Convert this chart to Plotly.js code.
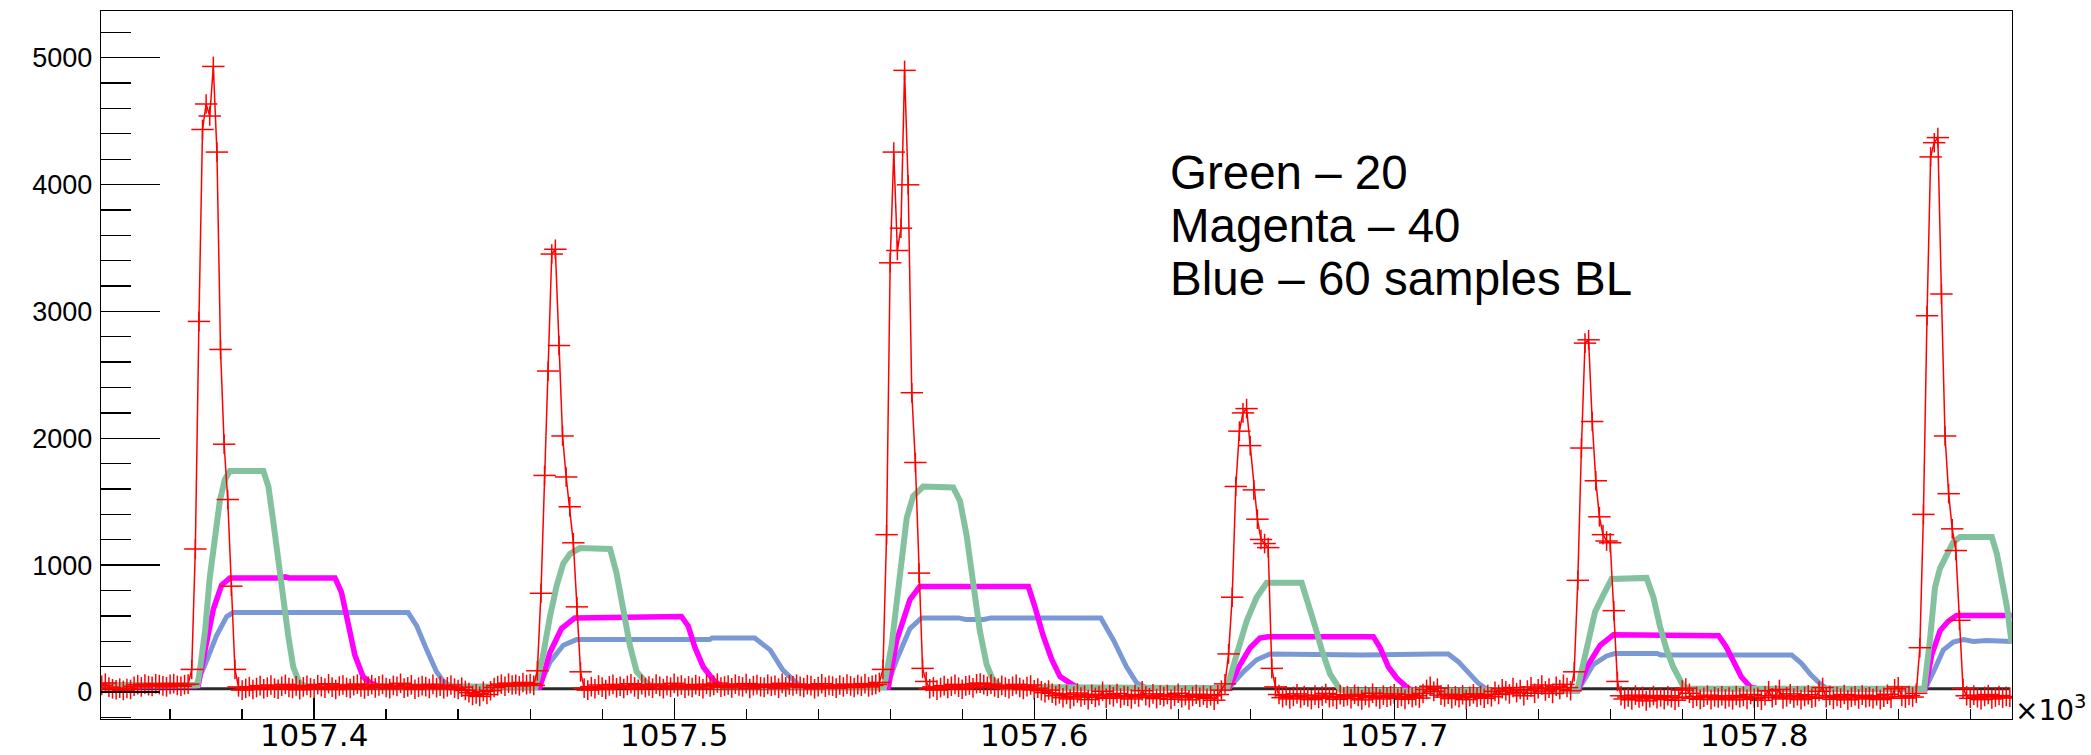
<!DOCTYPE html>
<html>
<head>
<meta charset="utf-8">
<script src="https://cdn.plot.ly/plotly-3.0.1.min.js"></script>
<style>
  html, body { margin: 0; padding: 0; background: #ffffff; }
  #chart { width: 2091px; height: 755px; }
</style>
</head>
<body>
<div id="chart"></div>
<script>
// ---- sampling grid (x axis shown in units of 10^3) ----
const SAMPLE0 = 1057.341;   // x of sample 0 (x10^3)
const SAMPLE_STEP = 0.001;  // one sample (x10^3)

// ---- raw waveform (red), one value per sample ----
const redCounts = [
  // baseline before pulse 1 (samples 0-24)
  52, 70, 38, 25, 18, 30, 12, 28, 20, 45, 58, 40, 62, 50, 44, 65, 58, 48, 40, 60, 66, 52, 45, 58, 62,
  // pulse 1 (25-38)
  178, 1127, 2921, 4434, 4635, 4540, 4931, 4256, 2700, 1953, 1517, 834, 178, 40,
  // baseline (39-120)
  15, 28, 42, 20, 35, 50, 25, 38, 55, 30,
  22, 45, 60, 35, 28, 48, 18, 40, 52, 33,
  25, 58, 42, 30, 65, 38, 20, 47, 55, 36,
  28, 50, 62, 40, 24, 45, 58, 32, 48, 60,
  35, 26, 52, 44, 68, 30, 40, 56, 22, 38,
  50, 42, 28, 60, 34, 46, 25, 40, 55, 30,
  20, 38, 12, -5, -28, -15, -35, 5, -20, 10,
  35, 50, 62, 45, 70, 55, 60, 48, 75, 58, 66, 52,
  // pulse 2 (121-133)
  167, 778, 1707, 2530, 3452, 3490, 2731, 2018, 1695, 1460, 1176, 671, 159,
  // baseline (134-216)
  30, 15, 42, 25, 55, 38, 20, 48, 60, 33,
  45, 28, 52, 65, 40, 22, 58, 35, 47, 30,
  62, 44, 26, 50, 38, 68, 42, 55, 30, 48,
  35, 58, 45, 25, 60, 40, 52, 70, 38, 46,
  55, 32, 62, 48, 40, 66, 28, 50, 58, 42,
  36, 60, 45, 52, 30, 68, 40, 55, 48, 62,
  44, 35, 58, 50, 25, 42, 65, 38, 52, 46,
  30, 55, 40, 62, 48, 35, 58, 45, 66, 40,
  52, 60, 75,
  // pulse 3 (217-229)
  178, 1240, 3383, 4256, 3480, 3656, 4900, 3998, 2359, 1809, 937, 186, 83,
  // baseline (230-311)
  25, 40, 15, 35, 50, 28, 45, 60, 38, 22,
  48, 55, 32, 65, 70, 58, 45, 62, 40, 30,
  52, 38, 25, 45, 60, 35, 20, 42, 55, 18,
  30, 10, -5, 15, -10,
  -30, -15, -45, -20, -55, -35, -8, -40, -25, -60,
  -18, -42, -30, 5, -50, -22, -38, -12, -48, -28,
  -35, -55, -20, -40, 10, -30, -45, -15, -52, -25,
  -38, -20, -58, -32, -10, -45, -28, -62, -35, -18,
  -42, -25, -50, -30, -65, -20, 15,
  // pulse 4 (312-326)
  64, 300, 747, 1620, 2056, 2200, 2234, 1942, 1593, 1362, 1202, 1170, 1138, 186, 40,
  // baseline (327-408)
  -20, -45, -30, -55, -35, -15, -48, -28, -40, -60,
  -25, -50, -32, -12, -45, -38, -58, -22, -40, -30,
  -52, -18, -35, -62, -28, -45, -10, -38, -55, -25,
  -42, -30, -15, -50, -35, -58, -20, -44, -30, -48,
  -12, 20, 45, 5, 30, -25, -40, -18, -52, -30,
  -45, -22, -60, -35, -15, -42, -28, -50, -20, -38,
  5, -20, 25, 10, -15, 35, -5, 20, -30, 15,
  40, -10, 25, 55, 8, 30, -12, 45, 20, 60,
  35, 10,
  // pulse 5 (409-421)
  159, 880, 1923, 2750, 2776, 2132, 1665, 1381, 1240, 1190, 1176, 641, 83,
  // baseline (422-504)
  -30, -55, -40, -62, -25, -48, -35, -70, -45, -28,
  -52, -38, -60, -30, -45, -65, -40, 15, 30, -10,
  -50, -35, -58, -42, -25, -60, -38, -48, -30, -55,
  -40, -62, -28, -45, -35, -58, -20, -50, -42, -65,
  -30, 10, -45, -25, 20, -55, -38, -15, -48, -30,
  -60, -35, -22, -50, -40, 5, 35, -45, -28, -58,
  -35, -48, -20, -62, -40, -30, -55, -25, -45, -38,
  -52, -30, -60, -42, -18, -50, 25, 40, -35, -48,
  -28, -40, -10,
  // pulse 6 (505-517)
  349, 1400, 2966, 4218, 4330, 4370, 3137, 2018, 1563, 1286, 1115, 565, 27,
  // baseline (518-530)
  -30, -50, -25, -45, -60, -35, -20, -55, -40, -28, -48, -35, -42
];

// ---- filtered outputs: [sample, value] ----
const greenPts = [
  [0,55],[26.6,55],[27.3,178],[28.7,480],[30,900],[31.4,1240],[32.8,1505],[34.2,1676],[35.6,1741],[44.9,1741],[46.3,1620],[47.6,1354],[49,1089],[50.4,747],[51.8,444],[53.2,197],[55,64],[57,45],
  [120.5,40],[122.6,292],[124.5,595],[126.4,842],[128.2,1013],[130.1,1089],[132.8,1134],[141.2,1127],[143,937],[144.8,652],[146.7,368],[148.6,159],[151.3,72],[153,45],
  [217.3,40],[219.4,368],[220.8,709],[222.2,1051],[223.6,1373],[225.4,1544],[228.2,1620],[236.5,1612],[238.4,1506],[240.2,1240],[242.1,861],[243.9,482],[245.8,216],[247.6,91],[250,40],
  [312.6,30],[315.2,292],[318,558],[320.8,747],[323.6,861],[333.3,861],[335.1,709],[337,520],[338.9,330],[341.2,140],[344,19],[347,10],
  [409.8,10],[412.5,368],[414.8,633],[417.1,766],[419.4,891],[429.1,899],[431,747],[432.8,520],[434.7,330],[436.5,197],[439.3,45],[441,25],
  [506.2,25],[507.8,406],[509.2,823],[510.6,975],[512.5,1089],[514.3,1183],[516.2,1221],[525,1221],[526.4,1089],[527.8,899],[529.2,671],[530.5,387]
];
const magentaPts = [
  [0,50],[26.8,50],[28.7,330],[31,652],[33.3,842],[35.6,899],[50,899],[51,908],[52,899],[64.8,899],[66.6,785],[68.5,520],[70.3,292],[72.6,121],[74.5,72],[77,45],
  [121.7,40],[124.5,311],[127.7,500],[131.4,584],[161,595],[162.9,520],[164.8,349],[167.1,197],[169.9,95],[172,45],
  [218.5,40],[220.8,406],[224.5,728],[227.2,831],[257.4,831],[259.2,671],[261.5,444],[263.9,254],[266.2,121],[268.9,72],[271,35],
  [313,30],[316.2,216],[319,349],[321.7,425],[324,436],[353.2,436],[355.1,349],[357.4,197],[359.7,110],[362.9,27],[365,10],
  [410,10],[412.5,197],[416.2,368],[419.9,451],[439.3,451],[440,444],[449.1,444],[451.2,357],[453.3,239],[455.4,120],[458,37],[460,25],
  [506.5,25],[508.3,292],[510.6,482],[512.9,558],[515.2,603],[530.5,603]
];
const bluePts = [
  [0,45],[26,45],[28.7,216],[31.9,444],[34.7,595],[36.5,626],[85.1,626],[87.5,520],[90.3,330],[93,159],[94.9,83],[97,45],
  [121.5,40],[124.5,235],[128.2,368],[131.9,413],[168.9,413],[169.5,425],[181.4,425],[185.7,330],[189.2,173],[192,95],[194,45],
  [218,40],[220.8,254],[224.5,500],[227.7,584],[238,584],[240,572],[245,572],[247,584],[277.5,584],[281,410],[284.6,200],[287.5,70],[290,35],
  [313,30],[317.1,159],[320.8,254],[324.5,300],[350,292],[370,300],[374,300],[376.8,239],[379.6,160],[382.4,68],[385,15],
  [410,10],[414.3,216],[418,284],[420.3,303],[432,303],[433,292],[469.4,292],[472.1,226],[474.8,134],[477.4,63],[479,31],[481,25],
  [506.5,25],[508.8,159],[511.5,330],[514.3,394],[517.1,413],[519.9,398],[523.6,406],[530.5,398]
];
// dark reference trace near zero
const darkPts = [[0,25],[530,25]];

// ---- tick and text labels ----
const annotationLines = ['Green \u2013 20', 'Magenta \u2013 40', 'Blue \u2013 60 samples BL'];
const axisMultiplier = '\u00d710<sup>3</sup>';

// ---- build traces ----
const toX = s => SAMPLE0 + s * SAMPLE_STEP;
const lineTrace = (pts, color, width) => ({
  type: 'scatter', mode: 'lines',
  x: pts.map(p => toX(p[0])), y: pts.map(p => p[1]),
  line: { color: color, width: width, shape: 'linear' },
  hoverinfo: 'skip', showlegend: false
});
const redX = redCounts.map((_, i) => toX(i));

const traces = [
  lineTrace(darkPts, '#2b2b2b', 3),
  lineTrace(bluePts, '#7b98d6', 5),
  lineTrace(magentaPts, '#ff00ff', 5.5),
  lineTrace(greenPts, '#84c19f', 6),
  {
    type: 'scatter', mode: 'lines+markers',
    x: redX, y: redCounts,
    line: { color: '#ff0000', width: 1.5 },
    marker: { symbol: 'line-ns-open', size: 14, color: '#ff0000', line: { color: '#ff0000', width: 1.5 } },
    hoverinfo: 'skip', showlegend: false
  },
  {
    type: 'scatter', mode: 'markers',
    x: redX, y: redCounts,
    marker: { symbol: 'line-ew-open', size: 16, color: '#ff0000', line: { color: '#ff0000', width: 1.5 } },
    hoverinfo: 'skip', showlegend: false
  }
];

const W = 2091, H = 755;
const M = { l: 101, r: 79, t: 11, b: 36 };
const plotW = W - M.l - M.r, plotH = H - M.t - M.b;
const px2paperX = px => (px - M.l) / plotW;
const px2paperY = py => 1 - (py - M.t) / plotH;

const textFont = { family: 'Liberation Sans, Arial, sans-serif', size: 47.5, color: '#000' };
const textCenters = [172.3, 225.7, 279];
const annotations = annotationLines.map((t, i) => ({
  text: t, xref: 'paper', yref: 'paper',
  x: px2paperX(1168), y: px2paperY(textCenters[i]),
  xanchor: 'left', yanchor: 'middle', showarrow: false, font: textFont
}));
annotations.push({
  text: axisMultiplier, xref: 'paper', yref: 'paper',
  x: px2paperX(2013), y: px2paperY(708),
  xanchor: 'left', yanchor: 'middle', showarrow: false,
  font: { family: 'DejaVu Sans', size: 28, color: '#000' }
});

const layout = {
  width: W, height: H,
  margin: M,
  paper_bgcolor: '#ffffff', plot_bgcolor: '#ffffff',
  showlegend: false,
  xaxis: {
    range: [1057.3408, 1057.8716],
    tick0: 1057.4, dtick: 0.1, tickformat: '.1f',
    ticks: 'inside', ticklen: 21, tickwidth: 1.3, tickcolor: '#000',
    minor: { tick0: 1057.4, dtick: 0.02, ticks: 'inside', ticklen: 10, tickwidth: 1.3, tickcolor: '#000', showgrid: false },
    showline: true, mirror: true, linecolor: '#000', linewidth: 1.3,
    showgrid: false, zeroline: false,
    tickfont: { family: 'DejaVu Sans, sans-serif', size: 31, color: '#000' },
    ticklabelstandoff: -12
  },
  yaxis: {
    range: [-213, 5368],
    tick0: 0, dtick: 1000, tickformat: 'd',
    ticks: 'inside', ticklen: 59, tickwidth: 1.3, tickcolor: '#000',
    minor: { tick0: 0, dtick: 200, ticks: 'inside', ticklen: 30, tickwidth: 1.3, tickcolor: '#000', showgrid: false },
    showline: true, mirror: true, linecolor: '#000', linewidth: 1.3,
    showgrid: false, zeroline: false,
    tickfont: { family: 'Liberation Sans, Arial, sans-serif', size: 27, color: '#000' },
    ticklabelstandoff: 2
  },
  annotations: annotations
};

Plotly.newPlot('chart', traces, layout, { staticPlot: true, displayModeBar: false });
</script>
</body>
</html>
